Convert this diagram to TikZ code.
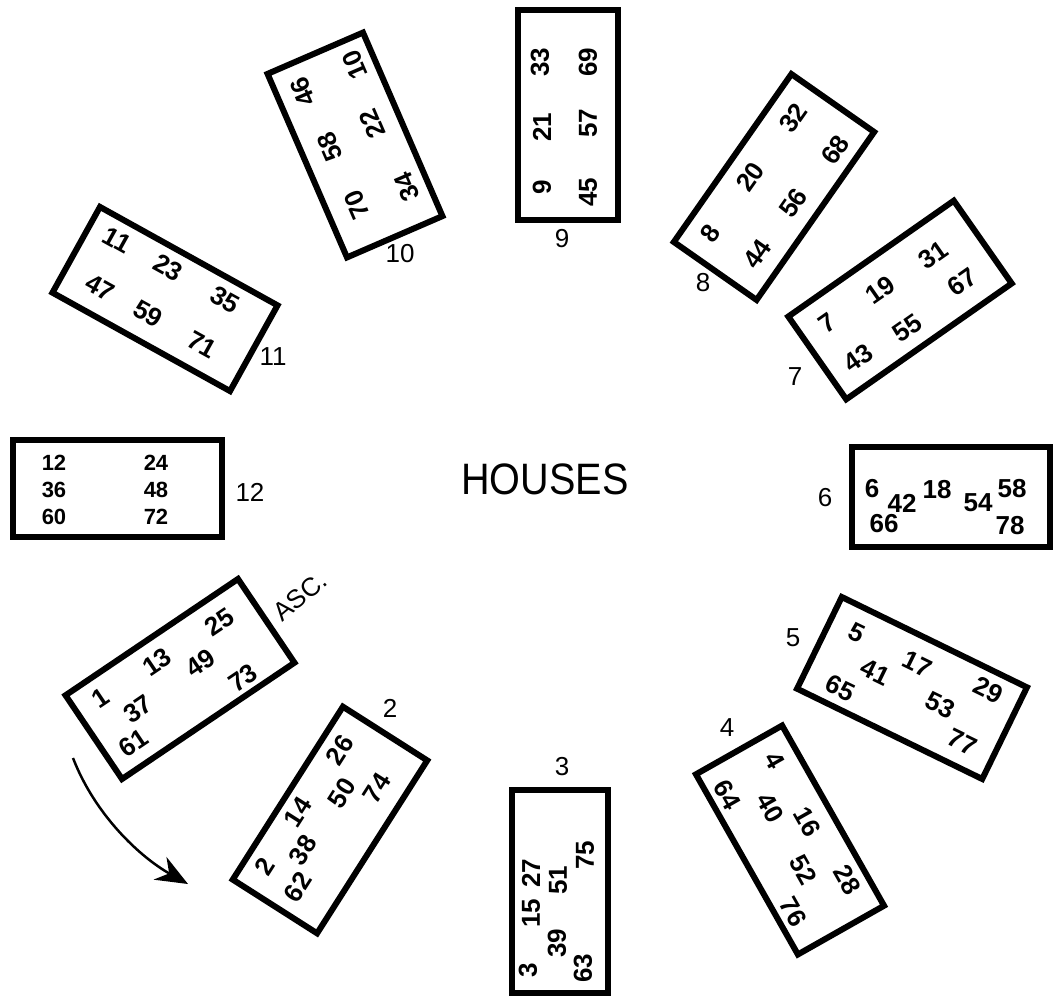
\documentclass[tikz,border=0pt]{standalone}
\usepackage{fontspec}
\setmainfont{Liberation Sans}
\usetikzlibrary{arrows.meta}
\begin{document}
\begin{tikzpicture}[x=1pt,y=-1pt,
  house/.style={draw, line width=6pt, inner sep=0pt},
  num/.style={font=\fontsize{26}{26}\selectfont\bfseries, inner sep=0pt},
  lab/.style={font=\fontsize{26}{26}\selectfont, inner sep=0pt},
  title/.style={font=\fontsize{44}{44}\selectfont, inner sep=0pt, xscale=0.9}]
\fill[white] (0,0) rectangle (1054,998);
\useasboundingbox (0,0) rectangle (1054,998);

% boxes
\node[house, minimum width=208pt, minimum height=101pt, rotate=34] (b1) at (180,679) {};
\node[house, minimum width=205pt, minimum height=100pt, rotate=57.5] (b2) at (330,820) {};
\node[house, minimum width=96pt, minimum height=203pt] (b3) at (560,891.5) {};
\node[house, minimum width=207pt, minimum height=99pt, rotate=-60.5] (b4) at (790,840) {};
\node[house, minimum width=206pt, minimum height=102pt, rotate=-26] (b5) at (912,688) {};
\node[house, minimum width=198pt, minimum height=100pt] (b6) at (951,497) {};
\node[house, minimum width=202pt, minimum height=101pt, rotate=35] (b7) at (900,300) {};
\node[house, minimum width=205pt, minimum height=101pt, rotate=55] (b8) at (774,187) {};
\node[house, minimum width=100pt, minimum height=210pt] (b9) at (568,115) {};
\node[house, minimum width=200pt, minimum height=104pt, rotate=-66.6] (b10) at (355,145) {};
\node[house, minimum width=203pt, minimum height=98pt, rotate=-29] (b11) at (165,299) {};
\node[house, minimum width=209pt, minimum height=97pt] (b12) at (117.5,488.5) {};

% house 1
\begin{scope}[every node/.style={num, rotate=34}]
\node (n1a) at (100,698) {1};
\node (n1b) at (157,662) {13};
\node (n1c) at (219,622) {25};
\node (n1d) at (138,709) {37};
\node (n1e) at (200,663) {49};
\node (n1f) at (133,743) {61};
\node (n1g) at (243,678) {73};
\end{scope}
% house 2
\begin{scope}[every node/.style={num, rotate=57.5}]
\node (n2a) at (265,867) {2};
\node (n2b) at (298,812) {14};
\node (n2c) at (340,750) {26};
\node (n2d) at (303,850) {38};
\node (n2e) at (342,793) {50};
\node (n2f) at (298,887) {62};
\node (n2g) at (377,788) {74};
\end{scope}
% house 3
\begin{scope}[every node/.style={num, rotate=90}]
\node (n3a) at (528,970) {3};
\node (n3b) at (531,913) {15};
\node (n3c) at (531,873) {27};
\node (n3d) at (557,943) {39};
\node (n3e) at (558,880) {51};
\node (n3f) at (583,968) {63};
\node (n3g) at (585,855) {75};
\end{scope}
% house 4
\begin{scope}[every node/.style={num, rotate=-60.5}]
\node (n4a) at (775,760) {4};
\node (n4b) at (807,822) {16};
\node (n4c) at (847,880) {28};
\node (n4d) at (770,808) {40};
\node (n4e) at (803,870) {52};
\node (n4f) at (727,795) {64};
\node (n4g) at (793,912) {76};
\end{scope}
% house 5
\begin{scope}[every node/.style={num, rotate=-26}]
\node (n5a) at (857,633) {5};
\node (n5b) at (917,664) {17};
\node (n5c) at (988,690) {29};
\node (n5d) at (875,672) {41};
\node (n5e) at (940,705) {53};
\node (n5f) at (840,688) {65};
\node (n5g) at (962,742) {77};
\end{scope}
% house 6
\begin{scope}[every node/.style={num}]
\node (n6a) at (872,489) {6};
\node (n6b) at (902,503) {42};
\node (n6c) at (937,490) {18};
\node (n6d) at (978,503) {54};
\node (n6e) at (1012,489) {58};
\node (n6f) at (884,524) {66};
\node (n6g) at (1010,526) {78};
\end{scope}
% house 7
\begin{scope}[every node/.style={num, rotate=35}]
\node (n7a) at (827,323) {7};
\node (n7b) at (880,290) {19};
\node (n7c) at (933,255) {31};
\node (n7d) at (858,358) {43};
\node (n7e) at (907,328) {55};
\node (n7f) at (962,282) {67};
\end{scope}
% house 8
\begin{scope}[every node/.style={num, rotate=55}]
\node (n8a) at (710,233) {8};
\node (n8b) at (750,177) {20};
\node (n8c) at (793,118) {32};
\node (n8d) at (757,254) {44};
\node (n8e) at (793,203) {56};
\node (n8f) at (835,150) {68};
\end{scope}
% house 9
\begin{scope}[every node/.style={num, rotate=90}]
\node (n9a) at (542,187) {9};
\node (n9b) at (542,127) {21};
\node (n9c) at (540,62) {33};
\node (n9d) at (588,192) {45};
\node (n9e) at (588,123) {57};
\node (n9f) at (588,62) {69};
\end{scope}
% house 10
\begin{scope}[every node/.style={num, rotate=113.4}]
\node (n10a) at (355,65) {10};
\node (n10b) at (372,124) {22};
\node (n10c) at (407,187) {34};
\node (n10d) at (303,92) {46};
\node (n10e) at (330,147) {58};
\node (n10f) at (357,205) {70};
\end{scope}
% house 11
\begin{scope}[every node/.style={num, rotate=-29}]
\node (n11a) at (117,240) {11};
\node (n11b) at (168,268) {23};
\node (n11c) at (225,300) {35};
\node (n11d) at (100,288) {47};
\node (n11e) at (148,314) {59};
\node (n11f) at (202,345) {71};
\end{scope}
% house 12
\begin{scope}[every node/.style={num, font=\fontsize{22}{22}\selectfont\bfseries}]
\node (n12a) at (54,463) {12};
\node (n12b) at (156,463) {24};
\node (n12c) at (54,490) {36};
\node (n12d) at (156,490) {48};
\node (n12e) at (54,517) {60};
\node (n12f) at (156,517) {72};
\end{scope}

% labels
\node[lab, rotate=40] (l1) at (300,596) {ASC.};
\node[lab] (l2) at (390,708) {2};
\node[lab] (l3) at (562,767) {3};
\node[lab] (l4) at (727,728) {4};
\node[lab] (l5) at (793,638) {5};
\node[lab] (l6) at (825,498) {6};
\node[lab] (l7) at (795,377) {7};
\node[lab] (l8) at (703,283) {8};
\node[lab] (l9) at (562,239) {9};
\node[lab] (l10) at (400,254) {10};
\node[lab] (l11) at (273,357) {11};
\node[lab] (l12) at (250,492) {12};

\node[title] (t) at (545,479) {HOUSES};

% arrow
\coordinate (as) at (73,758);
\coordinate (ae) at (188,884);
\draw[line width=2.5pt, -{Stealth[length=32pt,width=26pt]}] (as) .. controls (95,815) and (140,857) .. (ae);
\end{tikzpicture}
\end{document}
